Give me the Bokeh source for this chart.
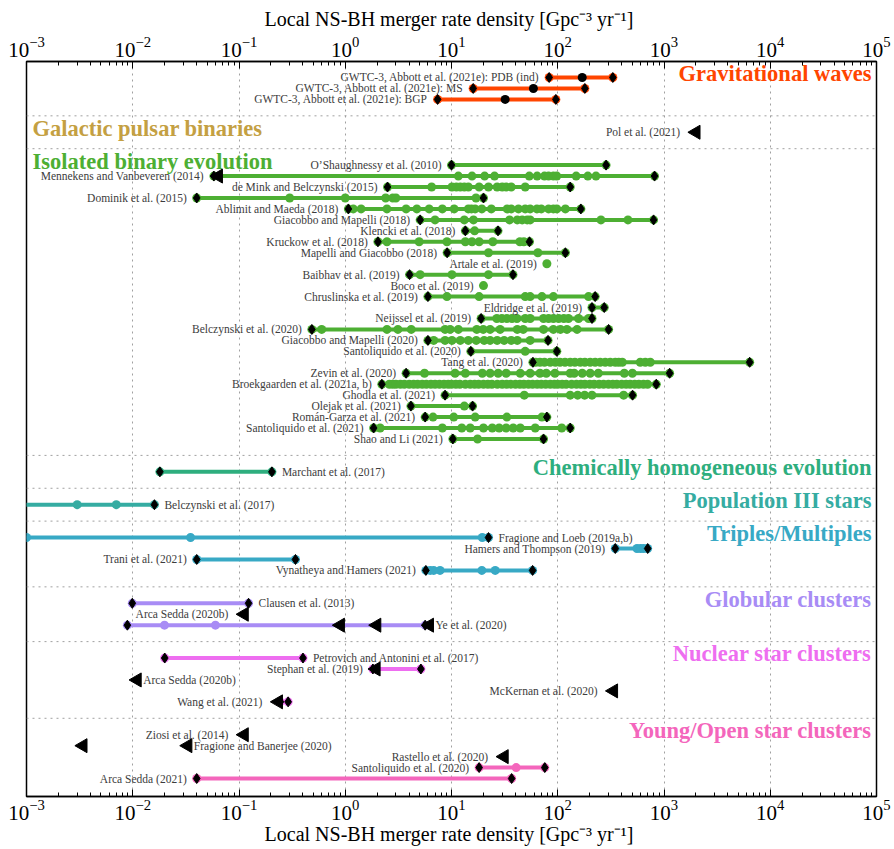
import numpy as np
from bokeh.plotting import figure
from bokeh.models import Range1d, LogAxis, Span, ColumnDataSource, FixedTicker
from bokeh.embed import file_html
from bokeh.resources import INLINE
from bokeh.core.properties import value

# ---------------- data ----------------
gw_title = "Gravitational waves"
gw_labels = ["GWTC-3, Abbott et al. (2021e): PDB (ind)",
             "GWTC-3, Abbott et al. (2021e): MS",
             "GWTC-3, Abbott et al. (2021e): BGP"]
gw_values = [[170], [59], [32]]
gw_ends = [[83, 330], [16, 180], [7.4, 96]]
gw_limits = [[], [], []]
gw_sides = ["L", "L", "L"]

psr_title = "Galactic pulsar binaries"
psr_labels = ["Pol et al. (2021)"]
psr_values = [[]]
psr_ends = [[]]
psr_limits = [[2000]]
psr_sides = ["L"]

iso_title = "Isolated binary evolution"
iso_labels = ["O\u2019Shaughnessy et al. (2010)", "Mennekens and Vanbeveren (2014)",
              "de Mink and Belczynski (2015)", "Dominik et al. (2015)",
              "Ablimit and Maeda (2018)", "Giacobbo and Mapelli (2018)",
              "Klencki et al. (2018)", "Kruckow et al. (2018)",
              "Mapelli and Giacobbo (2018)", "Artale et al. (2019)",
              "Baibhav et al. (2019)", "Boco et al. (2019)",
              "Chruslinska et al. (2019)", "Eldridge et al. (2019)",
              "Neijssel et al. (2019)", "Belczynski et al. (2020)",
              "Giacobbo and Mapelli (2020)", "Santoliquido et al. (2020)",
              "Tang et al. (2020)", "Zevin et al. (2020)",
              "Broekgaarden et al. (2021a, b)", "Ghodla et al. (2021)",
              "Olejak et al. (2021)", "Rom\u00e1n-Garza et al. (2021)",
              "Santoliquido et al. (2021)", "Shao and Li (2021)"]
iso_values = [
    [],
    [11.6, 15.6, 20.5, 25.4, 54, 64, 75, 82, 91, 98, 149, 192, 229],
    [6.5, 10.1, 11.1, 12.1, 13.2, 14.4, 18.2, 22.3, 26.9, 30, 32.7, 36.5, 49.4],
    [0.3, 1.0, 2.4, 2.8, 3.0, 17],
    [1.19, 1.41, 2.47, 3.74, 4.72, 6.16, 8.2, 10.6, 14.4, 15.4, 16.7, 19.3, 23.7,
     33.4, 36.5, 42.7, 49.4, 55, 63.7, 70, 82, 91, 98, 118],
    [7.0, 13.2, 16.1, 35.2, 41.6, 46.3, 51.6, 55, 255, 458],
    [16.5],
    [2.47, 4.96, 9.06, 13.5, 15.6, 18.2, 24.5, 44, 48],
    [22.3, 65],
    [79],
    [5.07, 10.1, 22.3],
    [20],
    [9.06, 18.2, 49.4, 55, 71, 91, 195],
    [],
    [26.7, 29.8, 33.2, 37.1, 41.3, 49.4, 55, 73.5, 82, 91, 102, 114, 126, 157, 195],
    [0.60, 2.47, 3.13, 4.18, 8.7, 9.7, 11.6, 17.3, 19.9, 23.1, 28.7, 41.6, 47.3,
     73.5, 91, 106, 122, 152],
    [6.8, 8.7, 10.1, 12.1, 14.4, 17.1, 20.3, 23.1, 26.9, 31.3, 36.5, 41.6, 55],
    [49.4],
    [62, 68, 75, 85, 95, 105, 117, 131, 145, 163, 180, 202, 225, 251, 280, 312,
     348, 375, 405, 598, 667, 743],
    [5.57, 10.8, 13.5, 19.5, 23.1, 27.5, 32.7, 44.4, 55, 68, 78, 94, 131, 143,
     170, 202, 241, 423, 504],
    [2.6, 2.8, 3.0, 3.3, 3.6, 4.0, 4.4, 4.8, 5.3, 5.8, 6.4, 7.0, 7.7, 8.5, 9.3,
     10, 11, 12, 13.5, 15, 16.5, 18, 20, 22, 24, 27, 30, 33, 36, 40, 44, 48, 53,
     58, 64, 70, 77, 85, 93, 100, 110, 120, 135, 150, 165, 180, 200, 220, 245,
     270, 300, 330, 360, 400, 440, 480, 530, 580, 640, 700],
    [48.4, 131, 154, 179, 210, 417],
    [13.2],
    [6.7, 10.5, 16.7, 33.2, 71],
    [2.13, 8.2, 12.5, 15.0, 20, 24.2, 28.1, 32.7, 38.1, 44.4, 61.4, 109],
    [17.6],
]
iso_ends = [[10, 285], [0.058, 815], [2.5, 131], [0.04, 20], [1.07, 165],
            [5.07, 798], [13.5, 27.4], [2.03, 54.2], [9.1, 118], [],
            [4.03, 37.9], [], [6.0, 225], [210, 274], [19.0, 210],
            [0.485, 301], [6.0, 81], [15.2, 98], [58.4, 6400], [3.74, 1130],
            [2.21, 846], [8.7, 506], [4.15, 15.8], [5.65, 79], [1.85, 131],
            [10.3, 73.5]]
iso_limits = [[], [0.064]] + [[] for _ in range(24)]
iso_sides = ["L"] * 26

che_title = "Chemically homogeneous evolution"
che_labels = ["Marchant et al. (2017)"]
che_values = [[]]
che_ends = [[0.018, 0.204]]
che_limits = [[]]
che_sides = ["R"]

pop3_title = "Population III stars"
pop3_labels = ["Belczynski et al. (2017)"]
pop3_values = [[0.0005, 0.003, 0.007]]
pop3_ends = [[0.016]]
pop3_limits = [[]]
pop3_sides = ["R"]

tri_title = "Triples/Multiples"
tri_labels = ["Fragione and Loeb (2019a,b)", "Hamers and Thompson (2019)",
              "Trani et al. (2021)", "Vynatheya and Hamers (2021)"]
tri_values = [[0.001, 0.035, 19.5], [557, 600, 643], [], [6.3, 6.8, 7.8, 19.3, 25.8]]
tri_ends = [[22.3], [348, 702], [0.040, 0.34], [5.74, 58]]
tri_limits = [[], [], [], []]
tri_sides = ["R", "L", "L", "L"]

gc_title = "Globular clusters"
gc_labels = ["Clausen et al. (2013)", "Arca Sedda (2020b)", "Ye et al. (2020)"]
gc_values = [[], [], [0.0199, 0.060]]
gc_ends = [[0.0099, 0.123], [], [0.0089, 5.65]]
gc_limits = [[], [0.112], [0.90, 1.98, 6.2]]
gc_sides = ["R", "L", "R"]

nsc_title = "Nuclear star clusters"
nsc_labels = ["Petrovich and Antonini et al. (2017)", "Stephan et al. (2019)",
              "Arca Sedda (2020b)", "McKernan et al. (2020)", "Wang et al. (2021)"]
nsc_values = [[], [], [], [], []]
nsc_ends = [[0.020, 0.40], [1.82, 5.15], [], [], [0.245, 0.29]]
nsc_limits = [[], [1.95], [0.011], [335], [0.235]]
nsc_sides = ["R", "L", "R", "L", "L"]

ysc_title = "Young/Open star clusters"
ysc_labels = ["Ziosi et al. (2014)", "Fragione and Banerjee (2020)",
              "Rastello et al. (2020)", "Santoliquido et al. (2020)",
              "Arca Sedda (2021)"]
ysc_values = [[], [], [], [40.6], []]
ysc_ends = [[], [], [], [18.2, 75.5], [0.040, 36.8]]
ysc_limits = [[0.112], [0.0034, 0.033], [31.3], [], []]
ysc_sides = ["L", "R", "L", "L", "L"]

# ---------------- styling ----------------
FONT = "Liberation Serif"
sections = [
    (gw_title, "#FF4500", "black", "right", gw_labels, gw_values, gw_ends, gw_limits, gw_sides),
    (psr_title, "#C4A042", None, "left", psr_labels, psr_values, psr_ends, psr_limits, psr_sides),
    (iso_title, "#4DAF33", None, "left", iso_labels, iso_values, iso_ends, iso_limits, iso_sides),
    (che_title, "#2EAE7E", None, "right", che_labels, che_values, che_ends, che_limits, che_sides),
    (pop3_title, "#35ACA2", None, "right", pop3_labels, pop3_values, pop3_ends, pop3_limits, pop3_sides),
    (tri_title, "#38A9C5", None, "right", tri_labels, tri_values, tri_ends, tri_limits, tri_sides),
    (gc_title, "#A88CF5", None, "right", gc_labels, gc_values, gc_ends, gc_limits, gc_sides),
    (nsc_title, "#EE6EF0", None, "right", nsc_labels, nsc_values, nsc_ends, nsc_limits, nsc_sides),
    (ysc_title, "#F466BC", None, "right", ysc_labels, ysc_values, ysc_ends, ysc_limits, ysc_sides),
]

seg = dict(x0=[], x1=[], y=[], c=[])
dots = dict(x=[], y=[], c=[])
endc = dict(x=[], y=[], c=[])
dia = dict(x=[], y=[])
tri = dict(x=[], y=[])
lab = dict(x=[], y=[], t=[], al=[], off=[])
tit = dict(x=[], y=[], t=[], al=[], off=[], c=[])
seps = []

pos = -3
for (title, col, dcol, talign, labels, vals, ends, lims, sides) in sections:
    if pos > -3:
        seps.append(pos + 1.5)
    pos += 3
    first = pos
    for i, name in enumerate(labels):
        y = pos
        v, e, l = vals[i], ends[i], lims[i]
        allv = v + e
        if len(allv) >= 2:
            seg["x0"].append(min(allv)); seg["x1"].append(max(allv))
            seg["y"].append(y); seg["c"].append(col)
        for xv in v:
            dots["x"].append(xv); dots["y"].append(y); dots["c"].append(dcol or col)
        for xv in e:
            endc["x"].append(xv); endc["y"].append(y); endc["c"].append(col)
            dia["x"].append(xv); dia["y"].append(y)
        for xv in l:
            tri["x"].append(xv); tri["y"].append(y)
        everything = allv + l
        if sides[i] == "L":
            xa = min(everything)
            off = -16 if (l and xa == min(l) and (not allv or min(l) < min(allv))) else -10
            lab["al"].append("right")
        else:
            xa = max(everything)
            off = 6 if (l and xa == max(l) and (not allv or max(l) > max(allv))) else 10
            lab["al"].append("left")
        lab["x"].append(xa); lab["y"].append(y); lab["t"].append(name); lab["off"].append(off)
        pos += 1
    pos -= 1
    tit["x"].append(1e5 if talign == "right" else 1e-3)
    tit["y"].append(first - 0.37)
    tit["t"].append(title)
    tit["al"].append(talign)
    tit["off"].append(-5 if talign == "right" else 6)
    tit["c"].append(col)

ytop = -1.46
ybot = pos + 1.64

p = figure(frame_width=850, frame_height=735, x_axis_type="log",
           x_range=Range1d(1e-3, 1e5), y_range=Range1d(ybot, ytop),
           output_backend="svg", toolbar_location=None, y_axis_location=None,
           min_border_left=26, min_border_right=16, min_border_top=61,
           min_border_bottom=48)
p.outline_line_color = "black"
p.outline_line_width = 1.5
p.ygrid.visible = False

ticker = FixedTicker(ticks=[10.0 ** k for k in range(-3, 6)],
                     minor_ticks=[m * 10.0 ** k for k in range(-3, 5) for m in range(2, 10)])
top = LogAxis()
p.add_layout(top, "above")
axis_label = "Local NS-BH merger rate density  [Gpc\u207b\u00b3 yr\u207b\u00b9]"
for ax in p.xaxis:
    ax.ticker = ticker
    ax.axis_label = axis_label
    ax.axis_label_text_font = FONT
    ax.axis_label_text_font_size = "20px"
    ax.axis_label_text_font_style = "normal"
    ax.axis_label_text_color = "black"
    ax.axis_label_standoff = 0
    ax.major_label_text_font = FONT
    ax.major_label_text_font_size = "21px"
    ax.major_label_text_color = "black"
    ax.major_label_standoff = 3
    ax.major_tick_in = 7
    ax.major_tick_out = 0
    ax.minor_tick_in = 4
    ax.minor_tick_out = 0
    ax.axis_line_width = 1.5
    ax.major_tick_line_color = "black"
    ax.minor_tick_line_color = "black"
top.major_label_standoff = 5
top.axis_label_standoff = 4
p.xgrid.ticker = ticker
p.xgrid.grid_line_color = "#a0a0a0"
p.xgrid.grid_line_dash = "dotted"
p.xgrid.grid_line_width = 1

for s in seps:
    p.add_layout(Span(location=s, dimension="width", line_color="#a0a0a0",
                      line_dash="dotted", line_width=1))

p.segment(x0="x0", y0="y", x1="x1", y1="y", line_color="c", line_width=4,
          source=ColumnDataSource(seg))
p.scatter(x="x", y="y", size=9, fill_color="c", line_color=None,
          source=ColumnDataSource(endc))
p.scatter(x="x", y="y", size=9, fill_color="c", line_color=None,
          source=ColumnDataSource(dots))
p.scatter(x="x", y="y", marker="diamond", size=10, fill_color="black",
          line_color="black", source=ColumnDataSource(dia))
p.scatter(x="x", y="y", marker="triangle", size=14, angle=np.pi / 2,
          fill_color="black", line_color="black", source=ColumnDataSource(tri))

p.text(x="x", y="y", text="t", text_align="al", x_offset="off",
       text_baseline="middle", text_font=value(FONT), text_font_size="11.5px",
       text_color="#3c3c3c", source=ColumnDataSource(lab))
p.text(x="x", y="y", text="t", text_align="al", x_offset="off",
       text_baseline="middle", text_font=value(FONT), text_font_size="22.5px",
       text_font_style="bold", text_color="c", source=ColumnDataSource(tit))

open("out.html", "w").write(file_html(p, INLINE))
